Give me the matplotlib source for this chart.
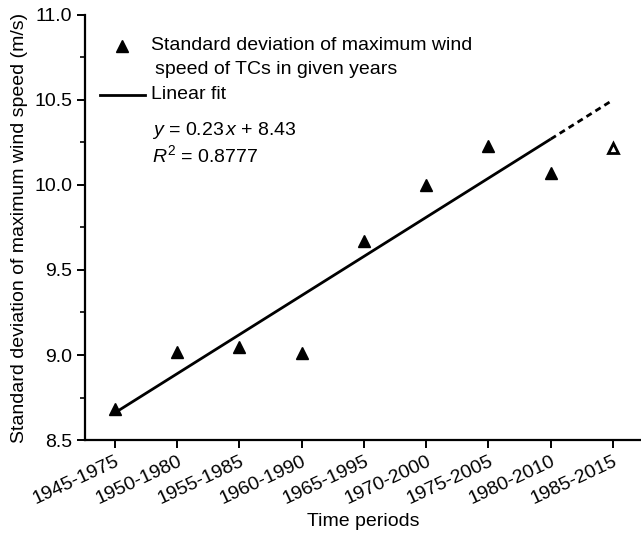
import matplotlib
matplotlib.use("Agg")
import matplotlib.pyplot as plt
import numpy as np

plt.rcParams['font.family'] = ['Liberation Sans', 'DejaVu Sans']
plt.rcParams['mathtext.fontset'] = 'custom'
plt.rcParams['mathtext.rm'] = 'Liberation Sans'
plt.rcParams['mathtext.it'] = 'Liberation Sans:italic'
plt.rcParams['mathtext.bf'] = 'Liberation Sans:bold'

periods = ['1945-1975', '1950-1980', '1955-1985', '1960-1990', '1965-1995',
           '1970-2000', '1975-2005', '1980-2010', '1985-2015']
std_values = [8.68, 9.02, 9.05, 9.01, 9.67, 10.00, 10.23, 10.07, 10.22]
slope = 0.23
intercept = 8.43
y_ticks = [8.5, 9.0, 9.5, 10.0, 10.5, 11.0]

FS = 14
x = np.arange(1, len(periods) + 1)

fig = plt.figure(figsize=(6.41, 5.34), dpi=100)
ax = fig.add_axes([0.1326, 0.176, 0.8674, 0.796])

# fitted points (filled) and the out-of-sample point (hollow)
ax.plot(x[:-1], std_values[:-1], linestyle='none', marker='^', ms=8.5,
        color='black', zorder=3)
ax.plot(x[-1:], std_values[-1:], linestyle='none', marker='^', ms=7.5,
        markerfacecolor='white', markeredgecolor='black', mew=2, zorder=3)

fit = slope * x + intercept
ax.plot(x[:-1], fit[:-1], color='black', lw=2, solid_capstyle='butt')
ax.plot(x[-2:], fit[-2:], color='black', lw=2, linestyle=(0, (2.2, 1.6)))

ax.set_xlim(0.52, 9.45)
ax.set_ylim(8.5, 11.0)
ax.set_yticks(y_ticks)
ax.set_yticklabels([f'{v:.1f}' for v in y_ticks])
ax.set_yticks(np.arange(8.75, 11.0, 0.5), minor=True)
ax.set_xticks(x)
ax.set_xticklabels(periods, rotation=25, ha='right', rotation_mode='anchor')

for s in ['top', 'right']:
    ax.spines[s].set_visible(False)
for s in ['left', 'bottom']:
    ax.spines[s].set_linewidth(1.6)
ax.tick_params(axis='both', which='major', direction='out', length=6,
               width=1.4, labelsize=FS, pad=3)
ax.tick_params(axis='y', which='minor', direction='out', length=3.5, width=1.2)
ax.tick_params(axis='x', which='major', pad=3)

ax.set_xlabel('Time periods', fontsize=FS, labelpad=4)
ax.set_ylabel('Standard deviation of maximum wind speed (m/s)', fontsize=FS,
              labelpad=5)

# legend drawn manually to match layout
tr = ax.transAxes
ax.plot([0.0665], [0.927], marker='^', ms=8.5, color='black',
        transform=tr, clip_on=False)
ax.text(0.119, 0.927, 'Standard deviation of maximum wind', transform=tr,
        fontsize=FS, va='center', ha='left')
ax.text(0.126, 0.871, 'speed of TCs in given years', transform=tr,
        fontsize=FS, va='center', ha='left')
ax.plot([0.027, 0.108], [0.812, 0.812], color='black', lw=2, transform=tr,
        clip_on=False)
ax.text(0.119, 0.812, 'Linear fit', transform=tr, fontsize=FS,
        va='center', ha='left')
ax.text(0.12, 0.729, r'$y$ = 0.23$\,x$ + 8.43', transform=tr, fontsize=FS,
        va='center', ha='left')
ax.text(0.12, 0.671, r'$R^{\mathrm{2}}$ = 0.8777', transform=tr, fontsize=FS,
        va='center', ha='left')

fig.savefig('out.png', dpi=100)
